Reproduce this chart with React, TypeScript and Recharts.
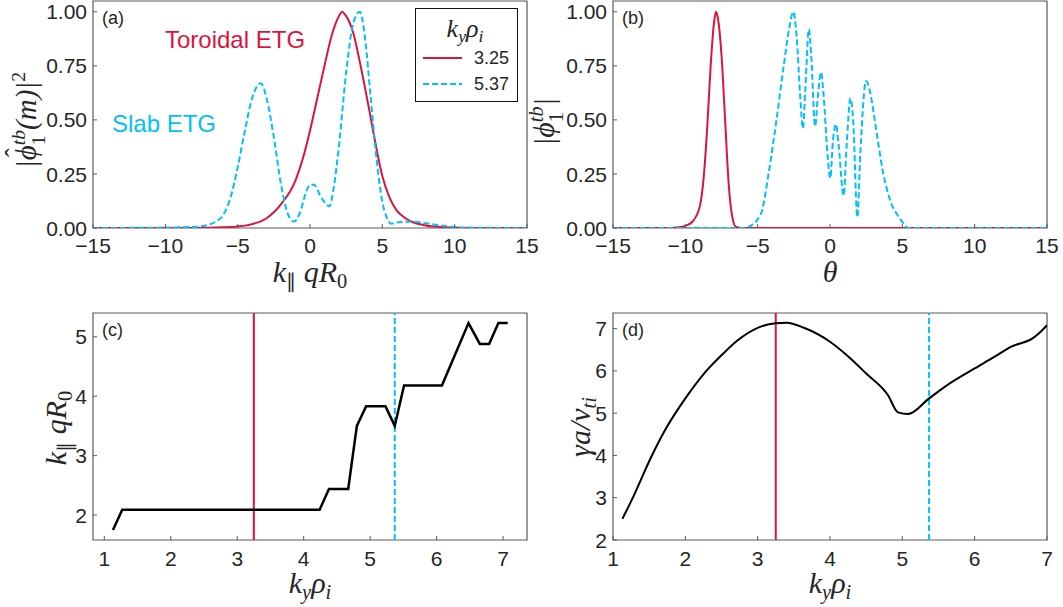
import React from "react";
import { LineChart, Line, XAxis, YAxis, ReferenceLine, ReferenceArea } from "recharts";

const RED = "#DC143C";
const CYAN = "#00BFFF";
const INK = "#262626";
const FRAME = "#5a5a5a";
const SANS = '"Liberation Sans", Arial, sans-serif';
const SERIF = '"Liberation Serif", "Times New Roman", serif';
const TICK_FONT = 21;

// (a) |phi_hat|^2 vs k_par q R0
const specRedX = [-15, -8, -6, -5, -4, -3, -2, -1, -0.5, 0, 0.5, 1, 1.5, 2, 2.2, 2.5, 3, 3.5, 4, 4.5, 5, 5.5, 6, 6.5, 7, 8, 9, 10, 11, 15];
const specRedY = [0, 0, 0.003, 0.007, 0.018, 0.045, 0.11, 0.22, 0.32, 0.45, 0.6, 0.75, 0.89, 0.98, 1.0, 0.98, 0.9, 0.75, 0.58, 0.4, 0.24, 0.14, 0.08, 0.05, 0.03, 0.012, 0.005, 0.002, 0, 0];
const specCyanX = [-15, -10, -8, -7, -6.5, -6, -5.5, -5, -4.5, -4, -3.4, -3, -2.5, -2, -1.5, -1.1, -0.7, -0.3, 0, 0.3, 0.7, 1, 1.35, 1.6, 2, 2.5, 3, 3.45, 3.8, 4.2, 4.6, 5, 5.3, 5.6, 6, 7, 8, 9, 10, 11, 15];
const specCyanY = [0, 0.002, 0.005, 0.015, 0.03, 0.06, 0.14, 0.28, 0.45, 0.6, 0.67, 0.6, 0.42, 0.2, 0.06, 0.03, 0.07, 0.16, 0.2, 0.2, 0.15, 0.12, 0.1, 0.17, 0.38, 0.72, 0.95, 1.0, 0.88, 0.6, 0.32, 0.12, 0.05, 0.02, 0.025, 0.03, 0.022, 0.012, 0.005, 0.002, 0];

// (b) |phi| vs theta
const modeRedX = [-15, -11, -10.5, -10, -9.5, -9, -8.75, -8.5, -8.25, -8, -7.88, -7.75, -7.5, -7.25, -7, -6.75, -6.5, -6, 15];
const modeRedY = [0, 0, 0.003, 0.01, 0.03, 0.1, 0.22, 0.45, 0.75, 0.96, 1.0, 0.97, 0.8, 0.5, 0.2, 0.05, 0.005, 0, 0];
const modeCyanX = [-15, -6, -5.5, -5, -4.7, -4.25, -3.7, -3.2, -2.8, -2.54, -2.3, -2.05, -1.87, -1.7, -1.46, -1.3, -1.03, -0.85, -0.62, -0.45, -0.15, 0.02, 0.2, 0.41, 0.6, 0.94, 1.15, 1.41, 1.6, 1.89, 2.1, 2.49, 2.8, 3.09, 3.69, 4.2, 4.77, 5.1, 5.4, 15];
const modeCyanY = [0, 0, 0.01, 0.04, 0.08, 0.25, 0.5, 0.75, 0.93, 1.0, 0.88, 0.6, 0.46, 0.65, 0.92, 0.8, 0.47, 0.6, 0.72, 0.62, 0.32, 0.23, 0.4, 0.48, 0.38, 0.15, 0.38, 0.6, 0.5, 0.05, 0.35, 0.68, 0.62, 0.5, 0.25, 0.12, 0.05, 0.02, 0, 0];

// (c) k_par q R0 vs k_y rho_i
const kyC = [1.13, 1.27, 4.24, 4.38, 4.67, 4.8, 4.94, 5.23, 5.37, 5.51, 6.08, 6.48, 6.65, 6.79, 6.93, 7.07];
const kparC = [1.75, 2.09, 2.09, 2.44, 2.44, 3.5, 3.83, 3.83, 3.5, 4.18, 4.18, 5.23, 4.88, 4.88, 5.23, 5.23];

// (d) growth rate vs k_y rho_i
const kyD = [1.13, 1.26, 1.53, 1.72, 2.0, 2.25, 2.5, 2.72, 3.0, 3.25, 3.4, 3.64, 4.0, 4.26, 4.5, 4.8, 4.94, 5.08, 5.37, 5.65, 6.0, 6.27, 6.5, 6.8, 6.89, 7.0];
const gammaD = [2.5, 2.95, 3.97, 4.6, 5.35, 5.92, 6.37, 6.72, 7.02, 7.13, 7.14, 7.02, 6.69, 6.33, 5.94, 5.43, 5.02, 4.98, 5.35, 5.7, 6.06, 6.33, 6.57, 6.77, 6.89, 7.08];

const KY_TOROIDAL = 3.25;
const KY_SLAB = 5.37;

const zip = (xs: number[], ys: number[]) => xs.map((x, i) => ({ x, y: ys[i] }));

const minus = (v: number) => (v < 0 ? "\u2212" + Math.abs(v) : String(v));

function tick(side: "bottom" | "left", gap: number, fmt: (v: number) => string) {
  return function Tick(props: any) {
    const { x, y, payload } = props;
    if (side === "bottom") {
      const ay = y - gap;
      return (
        <g>
          <line x1={x} x2={x} y1={ay} y2={ay - 4} stroke={FRAME} strokeWidth={1} />
          <text x={x} y={y} dy="0.72em" textAnchor="middle" fill={INK} fontSize={TICK_FONT} fontFamily={SANS}>
            {fmt(payload.value)}
          </text>
        </g>
      );
    }
    const ax = x + gap;
    return (
      <g>
        <line x1={ax} x2={ax + 4} y1={y} y2={y} stroke={FRAME} strokeWidth={1} />
        <text x={x} y={y} dy="0.36em" textAnchor="end" fill={INK} fontSize={TICK_FONT} fontFamily={SANS}>
          {fmt(payload.value)}
        </text>
      </g>
    );
  };
}

const Sub = ({ children }: { children: React.ReactNode }) => (
  <span style={{ fontSize: "0.68em", verticalAlign: "-0.3em", lineHeight: 0 }}>{children}</span>
);
const Sup = ({ children }: { children: React.ReactNode }) => (
  <span style={{ fontSize: "0.68em", verticalAlign: "0.55em", lineHeight: 0 }}>{children}</span>
);
const SubSup = ({ sub, sup }: { sub: string; sup: string }) => (
  <span style={{ display: "inline-block", fontSize: "0.68em", lineHeight: 1, verticalAlign: "-0.45em", textAlign: "left" }}>
    <span style={{ display: "block", fontStyle: "italic" }}>{sup}</span>
    <span style={{ display: "block", fontStyle: "normal" }}>{sub}</span>
  </span>
);
const Hat = ({ children }: { children: React.ReactNode }) => (
  <span style={{ position: "relative", display: "inline-block" }}>
    {children}
    <span style={{ position: "absolute", left: "0.12em", top: "-0.36em", fontStyle: "normal", fontSize: "0.9em" }}>ˆ</span>
  </span>
);

function MathLabel({ x, y, rotate, size = 30, children }: { x: number; y: number; rotate?: boolean; size?: number; children: React.ReactNode }) {
  return (
    <div
      style={{
        position: "absolute",
        left: x,
        top: y,
        transform: `translate(-50%, -50%)${rotate ? " rotate(-90deg)" : ""}`,
        fontFamily: SERIF,
        fontStyle: "italic",
        fontSize: size,
        color: INK,
        whiteSpace: "nowrap",
        lineHeight: 1,
      }}
    >
      {children}
    </div>
  );
}

function PanelTag({ x, y, text }: { x: number; y: number; text: string }) {
  return (
    <div style={{ position: "absolute", left: x, top: y, fontFamily: SANS, fontSize: 18, color: INK, lineHeight: 1 }}>{text}</div>
  );
}

const KyRho = () => (
  <>
    k<Sub>y</Sub>ρ<Sub>i</Sub>
  </>
);
const KparQR = () => (
  <>
    k<Sub><span style={{ fontStyle: "normal" }}>∥</span></Sub> qR<Sub><span style={{ fontStyle: "normal" }}>0</span></Sub>
  </>
);

interface FrameProps {
  width: number;
  height: number;
  top: number;
  right: number;
  xAxisH: number;
  xDomain: [number, number];
  xTicks: number[];
  yDomain: [number, number];
  yTicks: number[];
  yFmt: (v: number) => string;
  xGap: number;
  children: React.ReactNode;
}

function Frame({ width, height, top, right, xAxisH, xDomain, xTicks, yDomain, yTicks, yFmt, xGap, children }: FrameProps) {
  return (
    <LineChart width={width} height={height} margin={{ top, right, bottom: 0, left: 0 }}>
      <XAxis
        type="number"
        dataKey="x"
        domain={xDomain}
        ticks={xTicks}
        interval={0}
        allowDataOverflow
        height={xAxisH}
        axisLine={false}
        tickLine={false}
        tickSize={0}
        tickMargin={xGap}
        tick={tick("bottom", xGap, minus)}
      />
      <YAxis
        type="number"
        domain={yDomain}
        ticks={yTicks}
        interval={0}
        allowDataOverflow
        width={93}
        axisLine={false}
        tickLine={false}
        tickSize={0}
        tickMargin={6}
        tick={tick("left", 6, yFmt)}
      />
      <ReferenceArea
        x1={xDomain[0]}
        x2={xDomain[1]}
        y1={yDomain[0]}
        y2={yDomain[1]}
        fill="none"
        stroke={FRAME}
        strokeWidth={1.2}
        ifOverflow="visible"
      />
      {children}
    </LineChart>
  );
}

const fixed2 = (v: number) => v.toFixed(2);
const plain = (v: number) => String(v);

export default function App() {
  const waveTicks = [-15, -10, -5, 0, 5, 10, 15];
  const ampTicks = [0, 0.25, 0.5, 0.75, 1];
  const kyTicks = [1, 2, 3, 4, 5, 6, 7];

  return (
    <div style={{ position: "absolute", left: 0, top: 0, width: 1063, height: 607, background: "#fff", overflow: "hidden" }}>
      <div style={{ position: "absolute", left: 0, top: 0 }}>
        <Frame width={540} height={300} top={1} right={13} xAxisH={72} xDomain={[-15, 15]} xTicks={waveTicks} yDomain={[0, 1.05]} yTicks={ampTicks} yFmt={fixed2} xGap={10}>
          <Line data={zip(specRedX, specRedY)} dataKey="y" type="monotone" stroke={RED} strokeWidth={2} dot={false} isAnimationActive={false} />
          <Line data={zip(specCyanX, specCyanY)} dataKey="y" type="monotone" stroke={CYAN} strokeWidth={2} strokeDasharray="6 3" dot={false} isAnimationActive={false} />
        </Frame>
      </div>
      <div style={{ position: "absolute", left: 520, top: 0 }}>
        <Frame width={543} height={300} top={1} right={16} xAxisH={72} xDomain={[-15, 15]} xTicks={waveTicks} yDomain={[0, 1.05]} yTicks={ampTicks} yFmt={fixed2} xGap={10}>
          <Line data={zip(modeRedX, modeRedY)} dataKey="y" type="monotone" stroke={RED} strokeWidth={2} dot={false} isAnimationActive={false} />
          <Line data={zip(modeCyanX, modeCyanY)} dataKey="y" type="monotone" stroke={CYAN} strokeWidth={2} strokeDasharray="6 3" dot={false} isAnimationActive={false} />
        </Frame>
      </div>
      <div style={{ position: "absolute", left: 0, top: 300 }}>
        <Frame width={540} height={307} top={13} right={13} xAxisH={67} xDomain={[0.83, 7.36]} xTicks={kyTicks} yDomain={[1.58, 5.4]} yTicks={[2, 3, 4, 5]} yFmt={plain} xGap={11}>
          <ReferenceLine x={KY_TOROIDAL} stroke={RED} strokeWidth={2} />
          <ReferenceLine x={KY_SLAB} stroke={CYAN} strokeWidth={2} strokeDasharray="6 3" />
          <Line data={zip(kyC, kparC)} dataKey="y" type="linear" stroke="#000" strokeWidth={2.5} dot={false} isAnimationActive={false} />
        </Frame>
      </div>
      <div style={{ position: "absolute", left: 520, top: 300 }}>
        <Frame width={543} height={307} top={13} right={16} xAxisH={67} xDomain={[1, 7]} xTicks={kyTicks} yDomain={[2, 7.37]} yTicks={[2, 3, 4, 5, 6, 7]} yFmt={plain} xGap={11}>
          <ReferenceLine x={KY_TOROIDAL} stroke={RED} strokeWidth={2} />
          <ReferenceLine x={KY_SLAB} stroke={CYAN} strokeWidth={2} strokeDasharray="6 3" />
          <Line data={zip(kyD, gammaD)} dataKey="y" type="monotone" stroke="#000" strokeWidth={2} dot={false} isAnimationActive={false} />
        </Frame>
      </div>

      <PanelTag x={102} y={9} text="(a)" />
      <PanelTag x={622} y={9} text="(b)" />
      <PanelTag x={102} y={321} text="(c)" />
      <PanelTag x={622} y={321} text="(d)" />

      <div style={{ position: "absolute", left: 165, top: 28, fontFamily: SANS, fontSize: 24, color: RED, lineHeight: 1, whiteSpace: "nowrap" }}>
        Toroidal ETG
      </div>
      <div style={{ position: "absolute", left: 112, top: 112, fontFamily: SANS, fontSize: 24, color: CYAN, lineHeight: 1, whiteSpace: "nowrap" }}>
        Slab ETG
      </div>

      {/* legend */}
      <div style={{ position: "absolute", left: 415, top: 8, width: 101, height: 92, border: "1.5px solid #111", background: "#fff" }}>
        <MathLabel x={49} y={20} size={26}>
          <KyRho />
        </MathLabel>
        <svg width={101} height={92} style={{ position: "absolute", left: 0, top: 0 }}>
          <line x1={7} x2={46} y1={49} y2={49} stroke={RED} strokeWidth={2} />
          <line x1={7} x2={46} y1={75} y2={75} stroke={CYAN} strokeWidth={2} strokeDasharray="6 3" />
          <text x={58} y={49} dy="0.36em" fontFamily={SANS} fontSize={18} fill={INK}>3.25</text>
          <text x={58} y={75} dy="0.36em" fontFamily={SANS} fontSize={18} fill={INK}>5.37</text>
        </svg>
      </div>

      {/* axis labels */}
      <MathLabel x={310} y={272}>
        <KparQR />
      </MathLabel>
      <MathLabel x={830} y={272}>θ</MathLabel>
      <MathLabel x={310} y={583}>
        <KyRho />
      </MathLabel>
      <MathLabel x={830} y={583}>
        <KyRho />
      </MathLabel>
      <MathLabel x={29} y={120} size={29} rotate>
        |<Hat>ϕ</Hat><SubSup sub="1" sup="tb" />(m)|<Sup><span style={{ fontStyle: "normal" }}>2</span></Sup>
      </MathLabel>
      <MathLabel x={546} y={122} rotate>
        |ϕ<SubSup sub="1" sup="tb" />|
      </MathLabel>
      <MathLabel x={56} y={428} rotate>
        <KparQR />
      </MathLabel>
      <MathLabel x={580} y={427} rotate>
        γa/v<Sub>ti</Sub>
      </MathLabel>
    </div>
  );
}
